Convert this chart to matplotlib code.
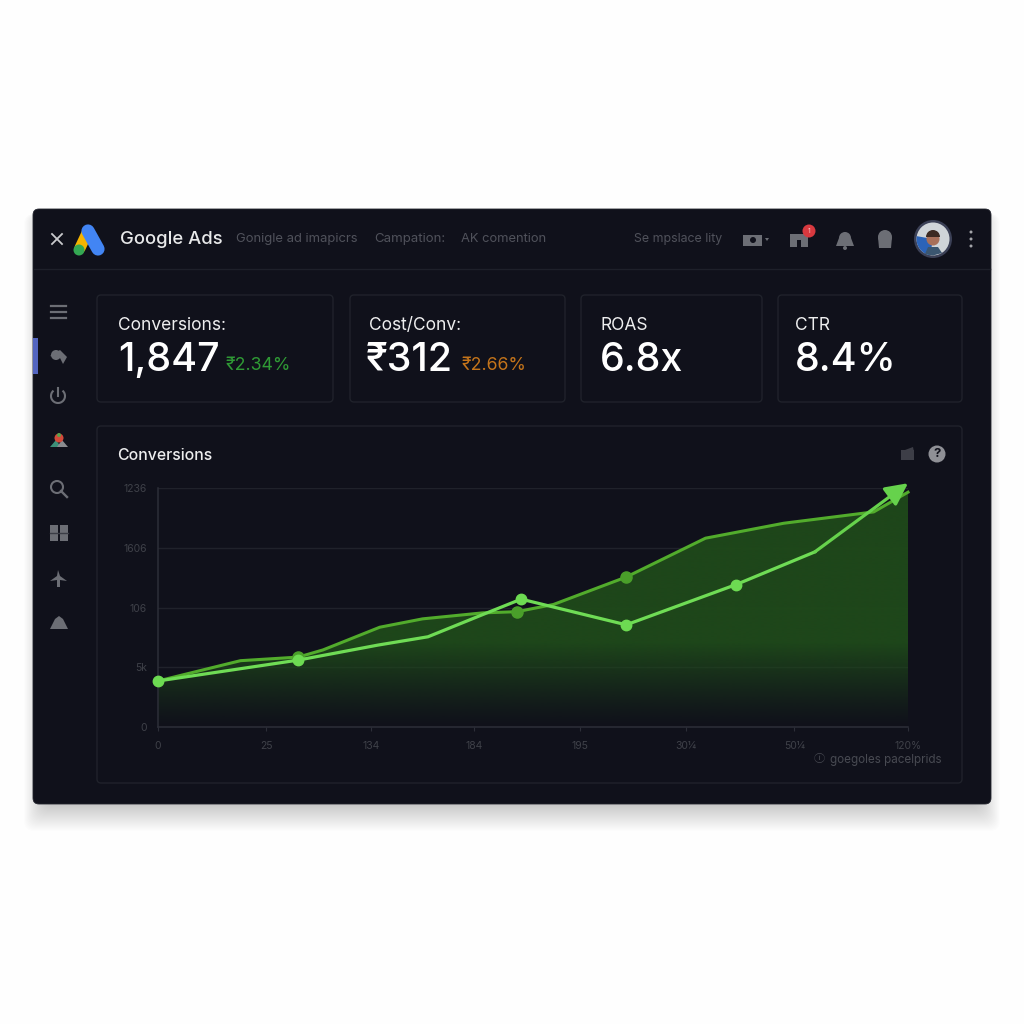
import numpy as np
import matplotlib
matplotlib.use("Agg")
import matplotlib.pyplot as plt
from matplotlib.patches import FancyBboxPatch, Circle, Polygon, Rectangle, Wedge, Arc

plt.rcParams['font.family'] = ['Inter', 'DejaVu Sans']

# Datos
kpi_titulos = ["Conversions:", "Cost/Conv:", "ROAS", "CTR"]
kpi_valores = ["1,847", "₹312", "6.8x", "8.4%"]
kpi_deltas = ["₹2.34%", "₹2.66%", "", ""]

y_ticks = [0, 1, 2, 3, 4]
y_labels = ["0", "5k", "106", "1606", "1236"]
x_ticks = [0, 1.01, 1.99, 2.95, 3.94, 4.93, 5.94, 7]
x_labels = ["0", "25", "134", "184", "195", "30¼", "50¼", "120%"]

claro_x = [0, 1.31, 2.05, 2.52, 3.07, 3.39, 4.37, 5.39, 6.13, 7.0]
claro_y = [0.77, 1.12, 1.37, 1.51, 1.91, 2.14, 1.71, 2.38, 2.93, 4.08]
claro_marcas = [0, 1, 5, 6, 7]

oscuro_x = [0, 0.77, 1.31, 1.54, 2.07, 2.47, 3.03, 3.35, 3.69, 4.37, 5.11, 5.84, 6.68, 7.0]
oscuro_y = [0.77, 1.11, 1.17, 1.29, 1.67, 1.81, 1.91, 1.93, 2.05, 2.51, 3.16, 3.41, 3.60, 3.93]
oscuro_marcas = [2, 7, 9]

FONDO = '#10111b'
BORDE = '#20222b'
GRIS = '#50525b'
ICONO = '#6c6e75'

fig = plt.figure(figsize=(10.24, 10.24), dpi=100, facecolor='#fefefe')

# Eje en pixeles para toda la interfaz
ui = fig.add_axes([0, 0, 1, 1], zorder=0)
ui.set_xlim(0, 1024)
ui.set_ylim(1024, 0)
ui.axis('off')


def caja(x0, y0, x1, y1, radio=4, **kw):
    p = FancyBboxPatch((x0 + radio, y0 + radio), x1 - x0 - 2 * radio, y1 - y0 - 2 * radio,
                       boxstyle=f"round,pad={radio},rounding_size={radio}", **kw)
    ui.add_patch(p)
    return p


# Sombra y panel
for i in range(26):
    caja(44 - i * 0.8, 214, 980 + i * 0.8, 806 + i, radio=10, fc='#3a3d46', ec='none', alpha=0.006)
caja(33, 209, 991, 804, radio=6, fc=FONDO, ec='#23252e', lw=0.6)
ui.plot([34, 990], [268.5, 268.5], color='#1e202a', lw=1)

# Tarjetas
tarjetas = [(97, 295, 333, 402), (350, 295, 565, 402), (581, 295, 762, 402), (778, 295, 962, 402)]
for (x0, y0, x1, y1) in tarjetas:
    caja(x0, y0, x1, y1, fc=FONDO, ec=BORDE, lw=1)
caja(97, 426, 962, 783, fc=FONDO, ec=BORDE, lw=1)

# Encabezado
ui.plot([52, 62], [234, 244], color='#c9cacd', lw=1.3)
ui.plot([52, 62], [244, 234], color='#c9cacd', lw=1.3)
ui.plot([88, 80], [231, 248], color='#f5b400', lw=8, solid_capstyle='round')
ui.plot([88, 98], [231, 249], color='#4285f4', lw=9.5, solid_capstyle='round')
ui.add_patch(Circle((79, 250), 5.5, fc='#34a853', ec='none', zorder=3))

ui.text(120, 240, "Google Ads", color='#e8e9ea', fontsize=13.3, va='center', fontweight='medium')
ui.text(236, 239, "Gonigle ad imapicrs", color=GRIS, fontsize=9.4, va='center')
ui.text(374, 239, "Campation:", color=GRIS, fontsize=9.5, va='center')
ui.text(461, 239, "AK comention", color=GRIS, fontsize=9.3, va='center')
ui.text(634, 239, "Se mpslace lity", color=GRIS, fontsize=8.9, va='center')

# Iconos de arriba a la derecha
ui.add_patch(Rectangle((743, 235), 19, 11, fc=ICONO, ec='none'))
ui.add_patch(Circle((753, 240), 3, fc=FONDO, ec='none'))
ui.add_patch(Polygon([(765, 238), (769, 238), (767, 241)], fc=ICONO, ec='none'))
ui.add_patch(Rectangle((790, 234), 18, 13, fc=ICONO, ec='none'))
ui.add_patch(Rectangle((797, 240), 4, 7, fc=FONDO, ec='none'))
ui.add_patch(Circle((809, 231), 6.5, fc='#d8393f', ec='none'))
ui.text(809, 231, "1", color='#f4c4c4', fontsize=5, ha='center', va='center')
ui.add_patch(Wedge((845, 238), 6, 180, 360, fc=ICONO, ec='none'))
ui.add_patch(Polygon([(839, 238), (851, 238), (854, 246), (836, 246)], fc=ICONO, ec='none'))
ui.add_patch(Circle((845, 248), 2, fc=ICONO, ec='none'))
ui.add_patch(Circle((885, 237), 7, fc=ICONO, ec='none'))
ui.add_patch(Polygon([(878, 237), (892, 237), (891, 248), (879, 248)], fc=ICONO, ec='none'))

ui.add_patch(Circle((933, 239), 19, fc='#3b4056', ec='none'))
ui.add_patch(Circle((933, 239), 16.5, fc='#cfd4d8', ec='none'))
ui.add_patch(Wedge((933, 239), 16.5, 100, 190, fc='#2b63b8', ec='none'))
ui.add_patch(Polygon([(925, 254), (928, 247), (938, 247), (942, 253), (933, 255.5)], fc='#3b5670', ec='none'))
ui.add_patch(Circle((933, 239), 6.5, fc='#a8705a', ec='none'))
ui.add_patch(Wedge((933, 237), 7, 180, 360, fc='#3c2a22', ec='none'))
for yp in [232, 239, 246]:
    ui.add_patch(Circle((971, yp), 1.5, fc='#a4a5aa', ec='none'))

# Barra lateral
ui.add_patch(Rectangle((33, 338), 5, 36, fc='#5365c0', ec='none'))
for yp in [306, 312, 318]:
    ui.plot([51, 66], [yp, yp], color=ICONO, lw=1.6)
ui.add_patch(Circle((56, 355), 5, fc=ICONO, ec='none'))
ui.add_patch(Polygon([(50, 356), (60, 350), (67, 357), (63, 364), (60, 358)], fc=ICONO, ec='none'))
ui.add_patch(Arc((58, 396), 14, 14, theta1=-50, theta2=230, color=ICONO, lw=1.5))
ui.plot([58, 58], [388, 396], color=ICONO, lw=1.5)
ui.add_patch(Polygon([(50, 447), (56, 440), (61, 447)], fc='#3d8f78', ec='none'))
ui.add_patch(Polygon([(57, 447), (62, 440), (68, 447)], fc='#8a8c90', ec='none'))
ui.add_patch(Circle((59, 438), 4.5, fc='#d24a3a', ec='none'))
ui.add_patch(Circle((59, 435), 2, fc='#5aa04c', ec='none'))
ui.add_patch(Circle((57, 487), 6, fc='none', ec=ICONO, lw=1.5))
ui.plot([61, 67], [491, 497], color=ICONO, lw=1.7)
ui.add_patch(Rectangle((50, 525), 8, 16, fc=ICONO, ec='none'))
ui.add_patch(Rectangle((60, 525), 8, 16, fc=ICONO, ec='none'))
ui.plot([50, 68], [533, 533], color='#3b3d46', lw=1)
ui.add_patch(Polygon([(50, 581), (57, 576), (58, 570), (60, 576), (67, 581), (60, 580), (60, 587), (57, 587), (57, 580)],
                     fc=ICONO, ec='none'))
ui.add_patch(Polygon([(50, 629), (55, 619), (59, 616), (63, 619), (68, 629)], fc=ICONO, ec='none'))

# Textos de las tarjetas
for i, (x, xv) in enumerate(zip([118, 369, 600, 795], [118, 366, 600, 795])):
    ui.text(x, 325.5, kpi_titulos[i], color='#eeeeef', fontsize=12.5, va='center')
    ui.text(xv, 360.5, kpi_valores[i], color='white', fontsize=28.4, va='center', fontweight='medium')
ui.text(226, 366, kpi_deltas[0], color='#2f9a35', fontsize=12.8, va='center')
ui.text(462, 366, kpi_deltas[1], color='#c4741a', fontsize=12.8, va='center')

# Tarjeta del grafico
ui.text(117, 455.5, "Conversions", color='#eeeeef', fontsize=11.4, va='center', fontweight='medium')
ui.add_patch(Rectangle((901, 450), 13, 10, fc='#3d3e47', ec='none'))
ui.add_patch(Polygon([(905, 450), (913, 447), (914, 452)], fc='#3d3e47', ec='none'))
ui.add_patch(Circle((937, 454), 8.5, fc='#8f9096', ec='none'))
ui.text(937, 454, "?", color=FONDO, fontsize=9.5, ha='center', va='center', fontweight='bold')
ui.text(819, 759, "ⓘ", color='#484a52', fontsize=8, ha='center', va='center',
        family=['Noto Sans CJK SC', 'DejaVu Sans'])
ui.text(830, 759.5, "goegoles pacelprids", color='#484a52', fontsize=8.4, va='center')

# Grafico
ax = fig.add_axes([158 / 1024, (1024 - 727) / 1024, 750 / 1024, 239 / 1024], zorder=1)
ax.patch.set_alpha(0)
for lado in ['top', 'right']:
    ax.spines[lado].set_visible(False)
for lado in ['left', 'bottom']:
    ax.spines[lado].set_color('#2c2e38')
    ax.spines[lado].set_linewidth(1.1)
ax.set_yticks(y_ticks, y_labels)
ax.set_xticks(x_ticks, x_labels)
ax.tick_params(axis='y', length=0, pad=8, labelsize=7.5, labelcolor='#3f4149')
ax.tick_params(axis='x', length=3, pad=7, labelsize=7.5, labelcolor='#3f4149', color='#2c2e38')
ax.grid(True, axis='y', color='#20222b', lw=1)
ax.set_axisbelow(True)

# Relleno con degradado bajo la serie oscura
colores = np.zeros((256, 1, 4))
colores[:, 0, :3] = matplotlib.colors.to_rgb('#1f4a1a')
colores[:, 0, 3] = np.clip(np.linspace(2.8, 0, 256), 0, 1) ** 1.2 * 0.95
imagen = ax.imshow(colores, extent=(0, 7, 0, 4), origin='upper', aspect='auto', zorder=1,
                   interpolation='bilinear')
poli = Polygon(list(zip(oscuro_x, oscuro_y)) + [(7, 0), (0, 0)], closed=True, transform=ax.transData,
               fc='none', ec='none')
ax.add_patch(poli)
imagen.set_clip_path(poli)

ax.plot(oscuro_x, oscuro_y, color='#52ac2c', lw=2.2, zorder=3, clip_on=False)
ax.plot([oscuro_x[i] for i in oscuro_marcas], [oscuro_y[i] for i in oscuro_marcas], 'o',
        color='#4a9f2a', ms=8, zorder=3)

ax.plot(claro_x[:-1], claro_y[:-1], color='#6fdc55', lw=2.3, zorder=4)
ax.annotate('', xy=(claro_x[-1], claro_y[-1]), xytext=(claro_x[-2], claro_y[-2]),
            arrowprops=dict(arrowstyle='-|>,head_length=0.9,head_width=0.45', color='#66d24c', lw=2.3,
                            shrinkA=0, shrinkB=0, mutation_scale=15),
            zorder=5, annotation_clip=False)
ax.plot([claro_x[i] for i in claro_marcas], [claro_y[i] for i in claro_marcas], 'o',
        color='#6ddb52', ms=7.5, zorder=5, clip_on=False)

ax.set_xlim(0, 7)
ax.set_ylim(0, 4)

plt.savefig('out.png', dpi=100, facecolor=fig.get_facecolor())
